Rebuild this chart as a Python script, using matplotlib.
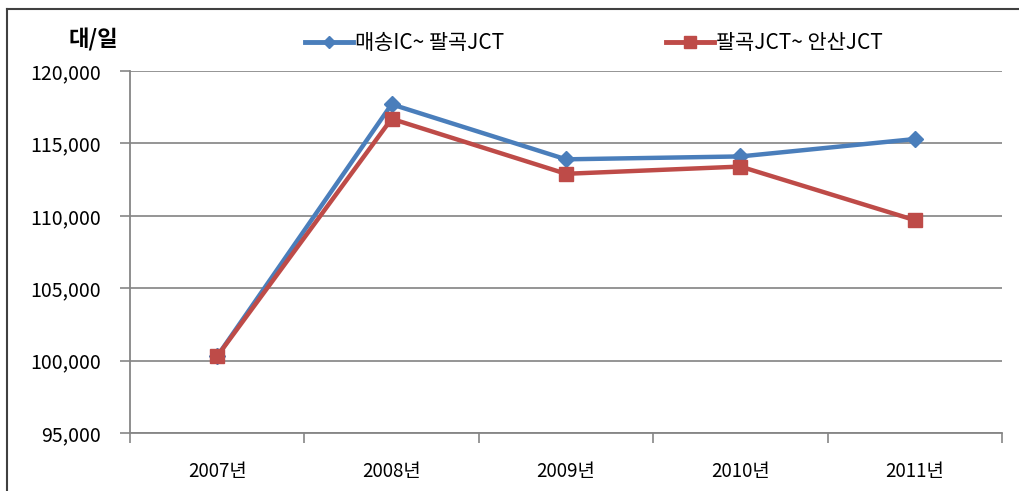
import matplotlib
matplotlib.use("Agg")
import matplotlib.pyplot as plt
from matplotlib.lines import Line2D

plt.rcParams['font.family'] = ['Noto Sans CJK KR', 'DejaVu Sans']

categories = ['2007년', '2008년', '2009년', '2010년', '2011년']
series1_name = '매송IC~ 팔곡JCT'
series2_name = '팔곡JCT~ 안산JCT'
series1 = [100300, 117700, 113900, 114100, 115300]
series2 = [100300, 116700, 112900, 113400, 109700]
yticks = [95000, 100000, 105000, 110000, 115000, 120000]

W, H = 1019, 491
fig = plt.figure(figsize=(W / 100, H / 100), dpi=100)
ax = fig.add_axes([130 / W, 1 - 433 / H, (1002 - 130) / W, (433 - 71) / H])

x = list(range(len(categories)))
blue = '#4a7ebb'
red = '#be4b48'
ax.plot(x, series1, color=blue, lw=3.2, marker='D', ms=8, zorder=3)
ax.plot(x, series2, color=red, lw=3.2, marker='s', ms=9.5, zorder=4)

ax.set_xlim(-0.5, len(categories) - 0.5)
ax.set_ylim(95000, 120000)
ax.set_yticks(yticks)
ax.set_yticklabels([f'{v:,}' for v in yticks])
ax.set_xticks(x)
ax.set_xticklabels(categories)
ax.set_xticks([i - 0.5 for i in range(len(categories) + 1)], minor=True)
ax.tick_params(axis='x', which='major', length=0, pad=20, labelsize=13.5)
ax.tick_params(axis='x', which='minor', length=7, color='#868686', width=1.2, direction='out')
ax.tick_params(axis='y', length=7, color='#868686', width=1.2, labelsize=14, pad=14)

ax.grid(axis='y', color='#8c8c8c', lw=1.3)
ax.set_axisbelow(True)
for s in ['top', 'right']:
    ax.spines[s].set_visible(False)
ax.spines['left'].set_color('#868686')
ax.spines['left'].set_linewidth(1.3)
ax.spines['bottom'].set_color('#868686')
ax.spines['bottom'].set_linewidth(1.3)

fig.text(93 / W, 1 - 40 / H, '대/일', fontsize=16, fontweight='bold', ha='center', va='center')

handles = [Line2D([0], [0], color=blue, lw=3.5, marker='D', ms=6),
           Line2D([0], [0], color=red, lw=3.5, marker='s', ms=8)]
fig.legend(handles, [series1_name, series2_name], loc='center',
           bbox_to_anchor=(594 / W, 1 - 43 / H), ncol=2, frameon=False,
           fontsize=15, handlelength=2.3, columnspacing=7.8, handletextpad=0.1)

# figure frame (top and left)
fig.add_artist(Line2D([7 / W, 1], [1 - 9 / H, 1 - 9 / H], color='#404040', lw=1.5))
fig.add_artist(Line2D([7 / W, 7 / W], [0, 1 - 9 / H], color='#404040', lw=1.5))

fig.savefig('out.png', dpi=100)
